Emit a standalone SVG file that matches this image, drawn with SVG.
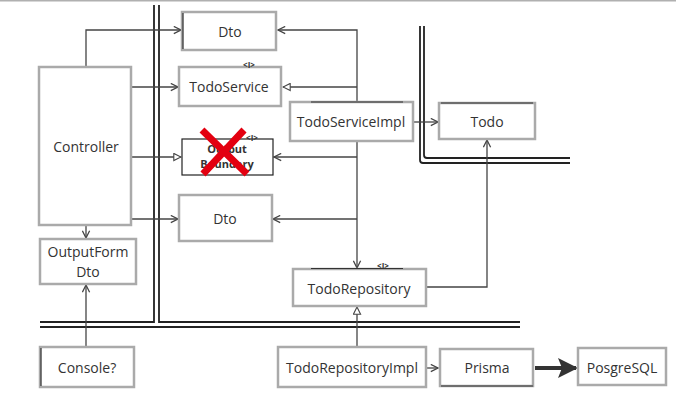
<svg xmlns="http://www.w3.org/2000/svg" width="676" height="402" viewBox="0 0 676 402">
<defs>
<style>
.box{fill:#fff;stroke:#aaa;stroke-width:2.5}
.edge{fill:none;stroke:#444;stroke-width:1.3}
.dark{fill:none;stroke:#333;stroke-width:1.2}
.wall{fill:none;stroke:#222;stroke-width:1.8}
.t{font-family:"Open Sans","Noto Sans","Liberation Sans",sans-serif;font-size:14px;fill:#333;text-anchor:middle}
.st{font-family:"Open Sans","Liberation Sans",sans-serif;font-size:8px;fill:#333;text-anchor:middle;font-weight:bold}
</style>
<marker id="open" viewBox="0 0 10 10" refX="9" refY="5" markerWidth="9" markerHeight="9" markerUnits="userSpaceOnUse" orient="auto">
<path d="M1,1 L9,5 L1,9" fill="none" stroke="#444" stroke-width="1.4"/>
</marker>
<marker id="tri" viewBox="0 0 10 10" refX="9" refY="5" markerWidth="9" markerHeight="9" markerUnits="userSpaceOnUse" orient="auto">
<path d="M1,1 L9,5 L1,9 Z" fill="#fff" stroke="#444" stroke-width="1.2"/>
</marker>
<marker id="solid" viewBox="0 0 10 10" refX="9" refY="5" markerWidth="20" markerHeight="22" markerUnits="userSpaceOnUse" orient="auto">
<path d="M0,0 L10,5 L0,10 L2,5 Z" fill="#333"/>
</marker>
</defs>
<rect width="676" height="402" fill="#fff"/>
<line x1="0" y1="0.8" x2="676" y2="0.8" stroke="#b0b0b0" stroke-width="1.6"/>

<g id="walls">
<path class="wall" d="M154,5 V322 H40"/>
<path class="wall" d="M159,5 V322 H520"/>
<path class="wall" d="M40,327 H520"/>
<path class="wall" d="M420,26 V160 Q420,163 423,163 H570"/>
<path class="wall" d="M424,26 V155 Q424,158 427,158 H570"/>
</g>

<g id="connectors">
<path class="edge" d="M86,67 V30 H181" marker-end="url(#open)"/>
<path class="edge" d="M131,87 H178" marker-end="url(#open)"/>
<path class="edge" d="M131,157 H181" marker-end="url(#tri)"/>
<path class="edge" d="M131,219 H178" marker-end="url(#open)"/>
<path class="edge" d="M86,225 V238" marker-end="url(#open)"/>
<path class="edge" d="M86,347 V285" marker-end="url(#open)"/>
<path class="edge" d="M357,102 V30 H278" marker-end="url(#open)"/>
<path class="edge" d="M357,87 H283" marker-end="url(#tri)"/>
<path class="edge" d="M357,141 V268" marker-end="url(#open)"/>
<path class="edge" d="M357,157 H274" marker-end="url(#open)"/>
<path class="edge" d="M357,219 H273" marker-end="url(#open)"/>
<path class="edge" d="M413,122 H438" marker-end="url(#open)"/>
<path class="edge" d="M426,287 H487 V140" marker-end="url(#open)"/>
<path class="edge" d="M357,347 V307" marker-end="url(#tri)"/>
<path class="edge" d="M426,368 H438" marker-end="url(#open)"/>
<path fill="none" stroke="#333" stroke-width="4" d="M535,368 H576" marker-end="url(#solid)"/>
</g>

<g id="dto-top">
<rect class="box" x="182" y="12" width="94" height="38"/>
<line class="dark" x1="183" y1="13" x2="183" y2="49"/>
<text class="t" x="230" y="37">Dto</text>
</g>

<g id="todoservice">
<rect class="box" x="179" y="67" width="102" height="39"/>
<text class="st" x="249" y="68">&lt;I&gt;</text>
<text class="t" x="229" y="92">TodoService</text>
</g>

<g id="output-boundary">
<rect x="182" y="139" width="91" height="36" fill="#fff" stroke="#222" stroke-width="1.2"/>
<text class="st" x="252" y="141">&lt;I&gt;</text>
<text class="t" x="227" y="153" style="font-size:11px;font-weight:bold">Output</text>
<text class="t" x="227" y="168" style="font-size:11px;font-weight:bold">Boundary</text>
<path d="M202,130 L247,174 M244,130 L203,174" stroke="#e30010" stroke-width="7" fill="none"/>
</g>

<g id="dto-bottom">
<rect class="box" x="179" y="195" width="93" height="46"/>
<text class="t" x="225" y="224">Dto</text>
</g>

<g id="controller">
<rect class="box" x="39" y="67" width="92" height="158"/>
<text class="t" x="86" y="152">Controller</text>
</g>

<g id="outputform-dto">
<rect class="box" x="40" y="239" width="96" height="45"/>
<text class="t" x="88" y="257">OutputForm</text>
<text class="t" x="88" y="277">Dto</text>
</g>

<g id="console">
<rect class="box" x="40" y="347" width="94" height="40"/>
<line class="dark" x1="41" y1="348" x2="41" y2="386"/>
<text class="t" x="87" y="373">Console?</text>
</g>

<g id="todoserviceimpl">
<rect class="box" x="290" y="102" width="123" height="39"/>
<line class="dark" x1="311" y1="102" x2="403" y2="102"/>
<text class="t" x="351" y="127">TodoServiceImpl</text>
</g>

<g id="todo">
<rect class="box" x="439" y="103" width="96" height="36"/>
<line class="dark" x1="441" y1="103" x2="533" y2="103"/>
<text class="t" x="487" y="127">Todo</text>
</g>

<g id="todorepository">
<rect class="box" x="293" y="269" width="133" height="37"/>
<line class="dark" x1="311" y1="268.5" x2="403" y2="268.5"/>
<text class="st" x="383" y="269">&lt;I&gt;</text>
<text class="t" x="359" y="294">TodoRepository</text>
</g>

<g id="todorepositoryimpl">
<rect class="box" x="278" y="347" width="148" height="40"/>
<text class="t" x="352" y="373">TodoRepositoryImpl</text>
</g>

<g id="prisma">
<rect class="box" x="440" y="349" width="93" height="37"/>
<line class="dark" x1="441" y1="386" x2="533" y2="386"/>
<text class="t" x="487" y="373">Prisma</text>
</g>

<g id="posgresql">
<rect class="box" x="578" y="348" width="88" height="37"/>
<text class="t" x="622" y="373">PosgreSQL</text>
</g>
</svg>
